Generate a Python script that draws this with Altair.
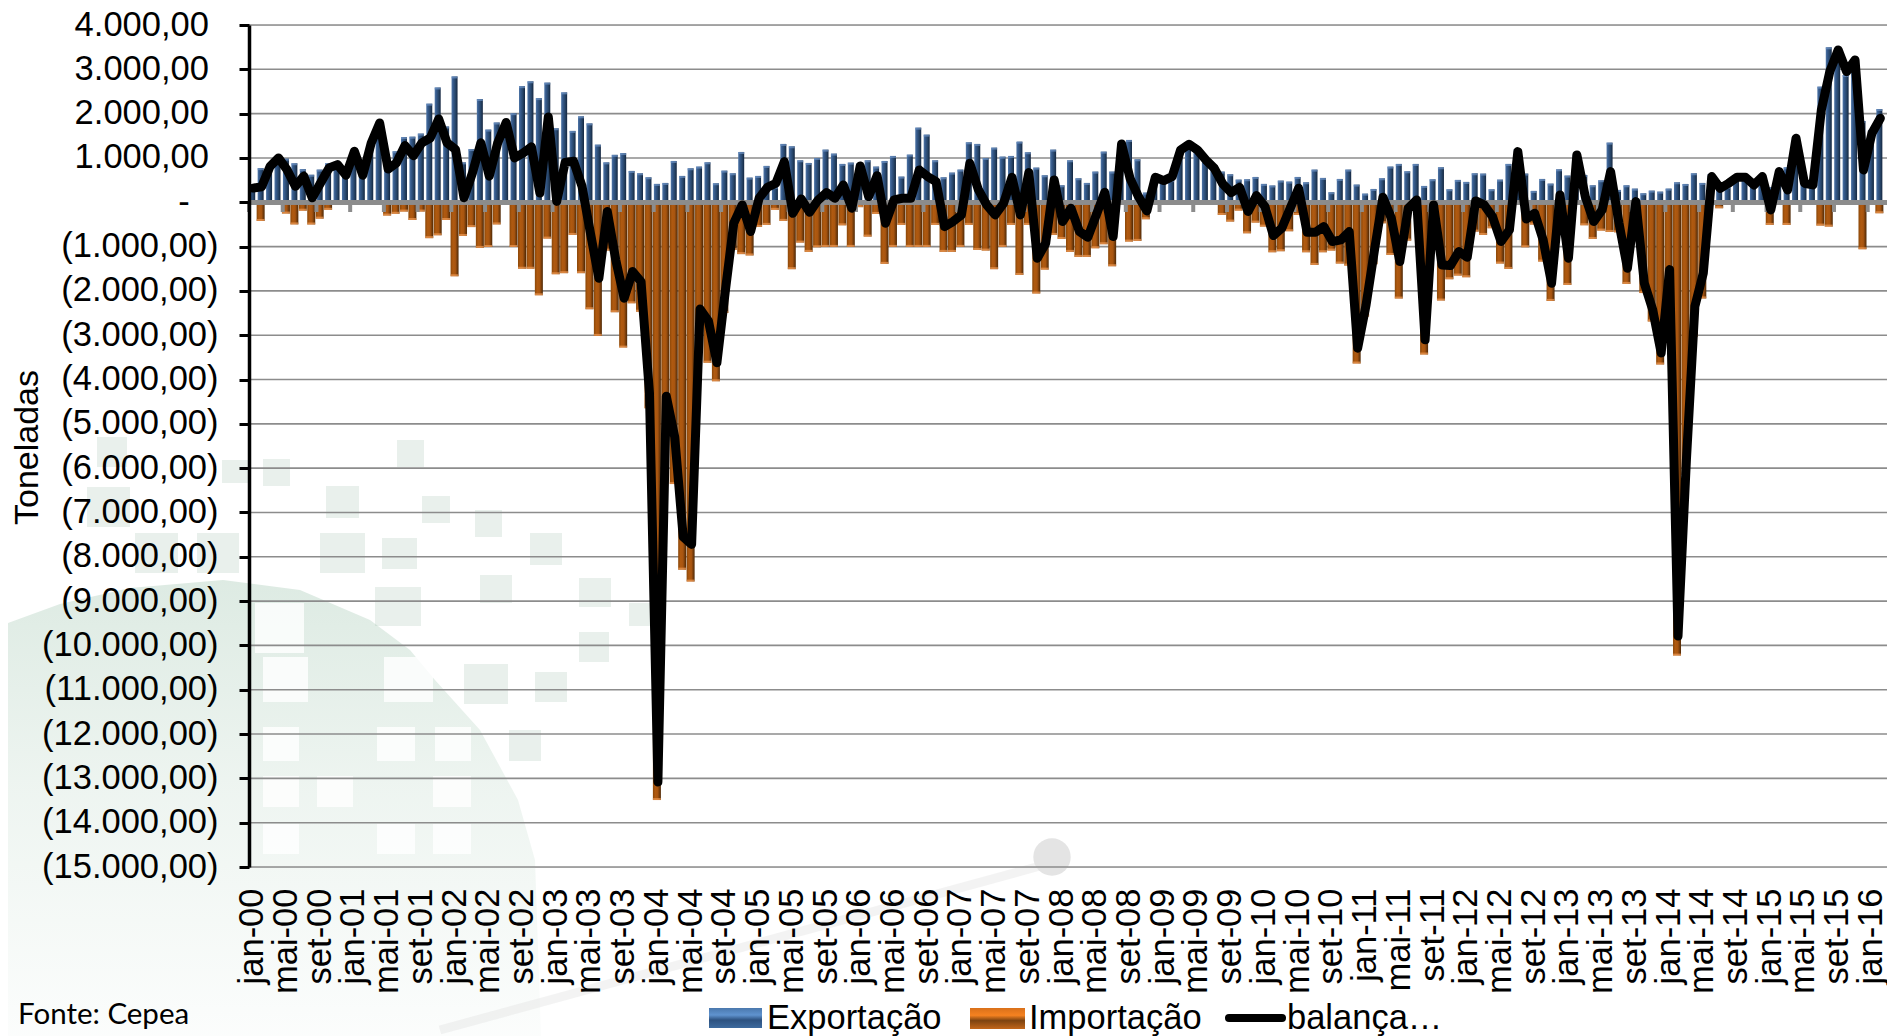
import altair as alt
import pandas as pd

# ---------- chart values ----------
month_names = ["jan", "fev", "mar", "abr", "mai", "jun", "jul", "ago", "set", "out", "nov", "dez"]
months = [f"{month_names[i % 12]}-{i // 12:02d}" for i in range(195)]
tick_months = months[::4]

exports = [
    300,770,800,960,985,880,750,620,737,880,
    870,660,1100,590,1300,1790,800,1150,1470,1480,
    1550,2225,2590,1710,2840,900,1200,2330,1640,1800,
    1800,2010,2620,2730,2350,2700,1670,2480,1610,1940,
    1780,1300,900,1070,1110,707,654,564,414,436,
    932,594,767,805,902,429,714,654,1135,556,
    594,820,350,1316,1263,947,887,1000,1188,1098,
    865,895,872,947,805,932,1045,579,1075,1684,
    1526,947,564,669,737,1353,1316,1000,1233,1030,
    1045,1368,1128,782,609,1188,383,947,541,436,
    692,1143,692,1316,1406,970,218,580,500,500,
    1180,1346,1218,955,805,692,632,511,519,571,
    414,376,489,466,571,451,737,549,226,526,
    737,399,195,300,541,805,865,699,865,368,
    519,790,293,504,459,654,647,293,511,865,
    1200,647,256,526,421,744,602,1068,617,383,
    496,1346,278,383,308,203,263,240,308,451,
    413,654,436,639,278,353,579,579,391,429,
    338,654,789,1443,429,391,2609,3496,3398,2872,
    3248,1835,1632,2105,None,
]
imports = [
    0,-420,0,0,-255,-500,-190,-500,-370,-170,
    0,0,0,0,0,0,-300,-260,-210,-400,
    -210,-810,-745,-400,-1670,-760,-560,-1030,-1010,-500,
    0,-1010,-1500,-1500,-2100,-820,-1624,-1600,-737,-1600,
    -2413,-3015,-1090,-2480,-3280,-2280,-2470,-4650,-13490,-5200,
    -6360,-8290,-8560,-3000,-3620,-4040,-2500,-1075,-1170,-1200,
    -556,-510,-170,-420,-1510,-910,-1120,-1015,-1007,-1007,
    -520,-1007,-110,-775,-263,-1390,-1007,-510,-1007,-1007,
    -1007,-510,-1120,-1120,-1007,-510,-1075,-1090,-1510,-1007,
    -510,-1640,-510,-2060,-1520,-737,-827,-1120,-1233,-1233,
    -1038,-947,-1444,0,-887,-872,-383,0,0,0,
    0,0,0,0,0,-286,-436,-188,-700,-459,
    -549,-1128,-1105,-654,-286,-1128,-1414,-1128,-1090,-1383,
    -1429,-3639,-2579,-1398,-474,-1188,-2173,-865,-50,-3436,
    -400,-2218,-1737,-1654,-1692,-662,-737,-586,-1383,-1504,
    0,-1015,-504,-1338,-2226,-579,-1865,0,-519,-827,
    -639,-669,-678,-1842,-293,-2050,-2690,-3660,-1800,-10230,
    -6150,-3030,-2170,0,-135,-60,0,0,0,0,
    -511,0,-511,0,0,0,-526,-549,0,0,
    0,-1060,0,-248,None,
]
balance = [
    320,350,810,1000,737,360,590,100,440,775,
    850,610,1150,610,1340,1790,750,890,1280,1050,
    1340,1450,1880,1340,1190,100,660,1340,590,1340,
    1800,1000,1110,1250,210,1925,20,900,925,360,
    -700,-1715,-210,-1300,-2165,-1564,-1790,-4300,-13080,-4380,
    -5300,-7550,-7720,-2410,-2680,-3620,-2000,-470,-60,-660,
    90,340,430,917,-250,75,-225,50,218,90,
    390,-135,820,128,600,-474,53,90,90,730,
    580,466,-550,-436,-286,880,293,-60,-286,-23,
    564,-286,669,-1263,-925,504,-436,-135,-660,-790,
    -286,226,-774,1316,541,128,-195,564,489,579,
    1180,1308,1180,955,767,414,218,338,-210,150,
    -98,-752,-586,-135,316,-677,-677,-549,-887,-850,
    -662,-3293,-2316,-1075,113,-361,-1338,-135,53,-3105,
    -60,-1414,-1429,-1113,-1240,30,-60,-323,-887,-624,
    1143,-376,-248,-850,-1827,165,-1263,1068,128,-436,
    -173,692,-474,-1489,15,-1827,-2430,-3400,-1520,-9790,
    -5800,-2350,-1600,579,316,429,564,564,391,579,
    -173,692,278,1443,429,391,2080,2947,3436,2947,
    3210,729,1556,1895,None,
]
y_ticks = list(range(-15000, 5000, 1000))
series_names = ["Exportação", "Importação", "balança…"]
y_title = "Toneladas"
source_note = "Fonte: Cepea"

# ---------- page decoration (watermark), in page pixels ----------
pale_squares = [
    (263,459,290,486),(397,440,424,467),(326,486,359,518),(422,496,450,523),(475,510,502,537),
    (320,533,365,573),(382,538,417,569),(530,533,562,565),(480,575,512,603),(579,578,611,607),
    (375,587,421,626),(629,603,656,626),(579,632,609,662),(464,664,508,704),(535,672,567,702),
    (509,730,541,761),(97,437,127,467),(222,460,250,483),(87,487,130,527),(135,533,178,573),
    (197,533,239,573),
]
white_squares = [
    (255,603,304,653),(263,657,308,702),(384,657,433,702),(263,727,299,761),(377,727,415,761),
    (435,727,471,761),(263,776,299,807),(317,776,353,807),(433,776,471,807),(263,824,299,854),
    (377,824,415,854),(433,824,471,854),
]
dome_x = [0,60,130,223,300,370,410,435,480,518,535,541]
dome_y = [626,604,588,580,590,620,650,680,730,800,860,1036]

# ---------- layout ----------
PLOT_L, PLOT_T, PLOT_W, PLOT_H = 249, 25, 1644, 842
page_x = alt.Scale(domain=[0, 1895], range=[-PLOT_L, 1895 - PLOT_L])
page_y = alt.Scale(domain=[0, 1036], range=[-PLOT_T, 1036 - PLOT_T])

FONT = "Liberation Sans"
x_scale = alt.Scale(domain=months, paddingInner=0, paddingOuter=0)
y_scale = alt.Scale(domain=[-15000, 4000], nice=False, zero=False)

df = pd.DataFrame({"mes": months, "exp": exports, "imp": imports, "bal": balance, "zero": 0})
ticks_df = pd.DataFrame({"mes": tick_months, "zero": 0})
grid_df = pd.DataFrame({"v": y_ticks})


def grad(stops, horizontal=True):
    return alt.Gradient(
        gradient="linear",
        x1=0, x2=1 if horizontal else 0, y1=0, y2=0 if horizontal else 1,
        stops=[alt.GradientStop(offset=o, color=c) for o, c in stops],
    )


blue_bar = grad([(0, "#4f76a6"), (0.3, "#35598a"), (0.65, "#274568"), (1, "#14263f")])
orange_bar = grad([(0, "#8a4709"), (0.3, "#b05a10"), (0.6, "#a85510"), (1, "#4d2806")])

# ---------- watermark ----------
sq_df = pd.DataFrame(pale_squares, columns=["x0", "y0", "x1", "y1"])
wh_df = pd.DataFrame(white_squares, columns=["x0", "y0", "x1", "y1"])


def rects(data, **mark):
    return alt.Chart(data).mark_rect(**mark).encode(
        x=alt.X("x0:Q", scale=page_x, axis=None),
        x2="x1:Q",
        y=alt.Y("y0:Q", scale=page_y, axis=None),
        y2="y1:Q",
    )


dome = alt.Chart(pd.DataFrame({"x": dome_x, "y": dome_y, "b": 1036})).mark_area(
    color=grad([(0, "#cfe2d7"), (0.45, "#e6f0ea"), (1, "#fafcfb")], horizontal=False),
    opacity=0.7,
).encode(
    x=alt.X("x:Q", scale=page_x, axis=None),
    y=alt.Y("y:Q", scale=page_y, axis=None),
    y2="b:Q",
)
streak = alt.Chart(pd.DataFrame({"x": [440, 1040], "y": [1030, 866]})).mark_line(
    color="#dddddd", strokeWidth=9, opacity=0.35
).encode(
    x=alt.X("x:Q", scale=page_x, axis=None),
    y=alt.Y("y:Q", scale=page_y, axis=None),
)
disc = alt.Chart(pd.DataFrame({"x": [1052], "y": [857]})).mark_circle(
    color="#e4e4e4", size=1400, opacity=1
).encode(
    x=alt.X("x:Q", scale=page_x, axis=None),
    y=alt.Y("y:Q", scale=page_y, axis=None),
)
watermark = [
    dome,
    rects(wh_df, color="#ffffff", opacity=0.8),
    rects(sq_df, color="#8fb3a0", opacity=0.2),
    streak,
    disc,
]

# ---------- main chart ----------
label_expr = (
    "datum.value === 0 ? '-\u00a0\u00a0\u00a0\u200b' : "
    "(datum.value < 0 ? '(' : '') + "
    "replace(replace(replace(format(abs(datum.value), ',.2f'), ',', '#'), '.', ','), '#', '.') + "
    "(datum.value < 0 ? ')' : '\u00a0\u200b')"
)
y_axis = alt.Axis(
    values=y_ticks, labelExpr=label_expr, labelFont=FONT, labelFontSize=34.5, labelColor="#000000",
    labelPadding=21, tickSize=10, tickWidth=3, tickColor="#000000", domainColor="#000000",
    domainWidth=3.5, grid=False, title=y_title, zindex=1,
    titleFont=FONT, titleFontSize=34, titleFontWeight="normal", titleColor="#000000",
    titleX=27 - PLOT_L, titleY=447 - PLOT_T, titleAngle=270, titleAlign="center", titleBaseline="middle",
    orient="left",
)
x_axis = alt.Axis(
    values=tick_months, labelAngle=270, labelAlign="right", labelBaseline="middle",
    labelFont=FONT, labelFontSize=34.5, labelColor="#000000", labelPadding=21, labelOverlap=False,
    labelFlush=False, ticks=False, domain=False, grid=False, title=None, orient="bottom", zindex=1,
)
X = alt.X("mes:N", sort=months, scale=x_scale, axis=x_axis)
Xn = alt.X("mes:N", sort=months, scale=x_scale, axis=None)


def Yq(field, axis=None):
    return alt.Y(f"{field}:Q", scale=y_scale, axis=axis, stack=None)


base = alt.Chart(df)
grid = alt.Chart(grid_df).mark_rule(color="#8c8c8c", size=1.6).encode(y=Yq("v"))
exp_bars = base.mark_bar(color=blue_bar, size=6, xOffset=-1).encode(x=Xn, y=Yq("exp"), y2=alt.Y2("zero:Q"))
imp_bars = base.mark_bar(color=orange_bar, size=8, xOffset=-1).encode(x=X, y=Yq("imp", y_axis), y2=alt.Y2("zero:Q"))
exp_caps = base.mark_tick(color="#6d93c4", size=6, thickness=2, xOffset=-1, yOffset=1).encode(x=Xn, y=Yq("exp"))
imp_caps = base.mark_tick(color="#ee9a55", size=8, thickness=2, xOffset=-1, yOffset=-1).encode(x=Xn, y=Yq("imp"))
zero_line = base.mark_rule(color="#8c8c8c", size=4).encode(y=Yq("zero"))
zero_ticks = alt.Chart(ticks_df).mark_rule(color="#8c8c8c", size=4).encode(
    x=alt.X("mes:N", sort=months, scale=x_scale, axis=None, bandPosition=0),
    y=Yq("zero"),
    y2=alt.value(202 - PLOT_T + 10),
)
line = base.mark_line(color="#000000", strokeWidth=9, strokeCap="round", strokeJoin="round").encode(x=Xn, y=Yq("bal"))

main = [grid, imp_bars, exp_bars, imp_caps, exp_caps, zero_line, zero_ticks, line]

# ---------- legend and note ----------
one = alt.Data(values=[{}])


def px_rect(x0, x1, y0, y1, fill):
    return alt.Chart(one).mark_rect(color=fill).encode(
        x=alt.value(x0 - PLOT_L), x2=alt.value(x1 - PLOT_L),
        y=alt.value(y0 - PLOT_T), y2=alt.value(y1 - PLOT_T),
    )


def px_text(s, x, y, font=FONT, size=34.5):
    return alt.Chart(one).mark_text(
        text=s, align="left", baseline="alphabetic", font=font, fontSize=size, color="#000000"
    ).encode(x=alt.value(x - PLOT_L), y=alt.value(y - PLOT_T))


blue_swatch = grad([(0, "#4a78ad"), (0.35, "#5f93cf"), (0.6, "#2d5280"), (1, "#3d6a9e")], horizontal=False)
orange_swatch = grad([(0, "#d9701a"), (0.35, "#f58220"), (0.6, "#7d4310"), (1, "#c2661a")], horizontal=False)
legend = [
    px_rect(709, 762, 1008, 1028, blue_swatch),
    px_text(series_names[0], 767, 1029),
    px_rect(970, 1025, 1008, 1029, orange_swatch),
    px_text(series_names[1], 1029, 1029),
    alt.Chart(one).mark_rule(color="#000000", size=8, strokeCap="round").encode(
        x=alt.value(1229 - PLOT_L), x2=alt.value(1282 - PLOT_L), y=alt.value(1018 - PLOT_T)
    ),
    px_text(series_names[2], 1287, 1029),
    px_text(source_note, 18, 1024, font="Lato", size=29.5),
]

chart = (
    alt.layer(*watermark, *main, *legend)
    .resolve_scale(x="independent", y="independent")
    .resolve_axis(x="independent", y="independent")
    .properties(
        width=PLOT_W,
        height=PLOT_H,
        autosize=alt.AutoSizeParams(type="none"),
        padding={"left": PLOT_L - 8, "top": PLOT_T - 8, "right": -6, "bottom": 169},
    )
    .configure_view(stroke="#a6a6a6", strokeWidth=1.5)
    .configure(background="#ffffff")
)
chart.save("out.html", embed_options={"renderer": "svg", "actions": False})
